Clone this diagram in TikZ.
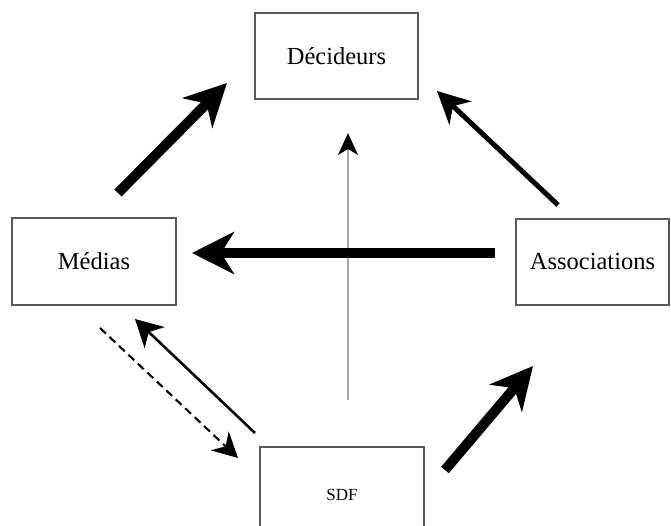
\documentclass[tikz,border=0pt]{standalone}
\usepackage{fontspec}
\setmainfont{Liberation Serif}
\usetikzlibrary{arrows.meta}
\begin{document}
\begin{tikzpicture}[x=1pt,y=-1pt,
  box/.style={draw=black!65, line width=1.4pt, inner sep=0pt, fill=white},
  big/.style={font=\fontsize{24.5}{28}\selectfont},
  small/.style={font=\fontsize{17}{20}\selectfont},
  bigarrow/.style={line width=10pt, -{Stealth[length=42pt,width=42pt,inset=13pt]}},
  midarrow/.style={line width=5pt, -{Stealth[length=32pt,width=32pt,inset=10pt]}},
  thinarrow/.style={line width=2.6pt, -{Stealth[length=27pt,width=29pt,inset=8pt]}},
  dasharrow/.style={line width=2.1pt, dash pattern=on 8pt off 5pt, -{Stealth[length=25pt,width=26pt,inset=8pt]}},
  grayarrow/.style={draw=black!35, line width=1.3pt, -{Stealth[length=22pt,width=20pt,inset=6pt,black]}}
]
\useasboundingbox (0,0) rectangle (671,526);
\begin{scope}
\clip (0,0) rectangle (671,526);
\node[box, big, minimum width=163pt, minimum height=86pt] (dec) at (336.5,56) {Décideurs};
\node[box, big, minimum width=164pt, minimum height=87pt] (med) at (94,261.5) {Médias};
\node[box, big, minimum width=153pt, minimum height=86pt] (asso) at (592.5,262) {Associations};
\node[box, small, minimum width=164pt, minimum height=96pt] (sdf) at (342,495) {SDF};

\coordinate (md1) at (118,193); \coordinate (md2) at (227,83);
\coordinate (ad1) at (558,205); \coordinate (ad2) at (437,91);
\coordinate (am1) at (495,253); \coordinate (am2) at (192,253);
\coordinate (sa1) at (445,470); \coordinate (sa2) at (533,366);
\coordinate (v1) at (348,400);  \coordinate (v2) at (348,133);
\coordinate (sm1) at (255,433); \coordinate (sm2) at (135,319);
\coordinate (ms1) at (100,328); \coordinate (ms2) at (238,458);

\draw[grayarrow] (v1) -- (v2);
\draw[bigarrow] (md1) -- (md2);
\draw[midarrow] (ad1) -- (ad2);
\draw[bigarrow] (am1) -- (am2);
\draw[bigarrow] (sa1) -- (sa2);
\draw[thinarrow] (sm1) -- (sm2);
\draw[dasharrow] (ms1) -- (ms2);
\end{scope}
\end{tikzpicture}
\end{document}
